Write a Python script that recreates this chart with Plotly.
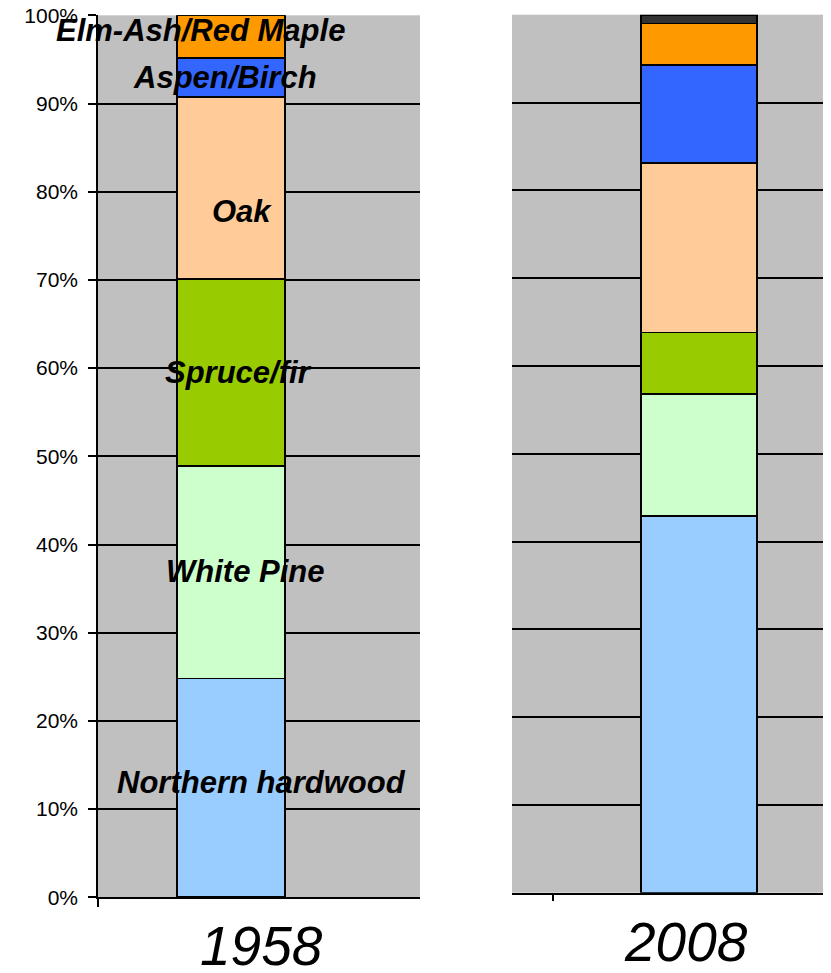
import plotly.graph_objects as go

years = ["1958", "2008"]
species = ["Northern hardwood", "White Pine", "Spruce/fir", "Oak",
           "Aspen/Birch", "Elm-Ash/Red Maple", "Other"]
share_1958 = [24.8, 24.1, 21.2, 20.6, 4.5, 4.8, 0.0]
share_2008 = [42.9, 13.9, 7.0, 19.3, 11.2, 4.7, 1.0]
colors = ["#99CCFF", "#CCFFCC", "#99CC00", "#FFCC99", "#3366FF", "#FF9900", "#333333"]
y_ticks = [0, 10, 20, 30, 40, 50, 60, 70, 80, 90, 100]
y_tick_labels = ["0%", "10%", "20%", "30%", "40%", "50%", "60%", "70%", "80%", "90%", "100%"]

# label placement for the 1958 bar (x offset in bar widths, y in %)
label_x = [0.287, 0.13, 0.074, 0.102, -0.056, -0.278]
label_y = [12.96, 36.9, 59.5, 77.7, 92.9, 98.3]

# page has an 8px body margin; figure fills the rest of the 831x973 window
OFF = 8
W, H = 831 - OFF, 973 - OFF


def px_x(p):
    return (p - OFF) / W


def px_y(p):
    return (973 - p) / H


fig = go.Figure()

for name, v1, v2, c in zip(species, share_1958, share_2008, colors):
    fig.add_trace(go.Bar(x=[0], y=[v1], name=name, marker_color=c,
                         marker_line=dict(color="black", width=1.8),
                         width=1, xaxis="x", yaxis="y", showlegend=False))
    fig.add_trace(go.Bar(x=[0], y=[v2], name=name, marker_color=c,
                         marker_line=dict(color="black", width=1.8),
                         width=1, xaxis="x2", yaxis="y2", showlegend=False))

tickfont = dict(family="Liberation Sans, Arial", size=21, color="black")

fig.update_layout(
    width=W, height=H,
    margin=dict(l=0, r=0, t=0, b=0, autoexpand=False),
    paper_bgcolor="white",
    plot_bgcolor="#C0C0C0",
    barmode="stack",
    showlegend=False,
    xaxis=dict(domain=[px_x(98), px_x(420)], range=[-1.231, 1.75],
               showticklabels=False, showgrid=False, zeroline=False,
               showline=True, linecolor="black", linewidth=1.5,
               ticks="outside", tickvals=[-1.231], ticklen=8, tickwidth=1.5,
               tickcolor="black", anchor="y", automargin=False),
    yaxis=dict(domain=[px_y(897.3), px_y(15.3)], range=[0, 100],
               tickvals=y_ticks, ticktext=y_tick_labels, tickfont=tickfont,
               showgrid=True, gridcolor="black", gridwidth=1.5,
               zeroline=False, showline=True, linecolor="black", linewidth=1.5,
               ticks="outside", ticklen=8, tickwidth=1.5, tickcolor="black",
               ticklabelstandoff=6, ticklabeloverflow="allow",
               anchor="x", automargin=False),
    xaxis2=dict(domain=[px_x(512), 1.0], range=[-1.612, 1.138],
                showticklabels=False, showgrid=False, zeroline=False,
                showline=True, linecolor="black", linewidth=1.5,
                ticks="outside", tickvals=[-1.259], ticklen=7, tickwidth=1.5,
                tickcolor="black", anchor="y2", automargin=False),
    yaxis2=dict(domain=[px_y(892.7), px_y(14.7)], range=[0, 100],
                tickvals=y_ticks, showticklabels=False,
                showgrid=True, gridcolor="black", gridwidth=1.5,
                zeroline=False, showline=False, ticks="", anchor="x2",
                automargin=False),
)

annotations = []
for name, lx, ly in zip(species[:6], label_x, label_y):
    annotations.append(dict(x=lx, y=ly, xref="x", yref="y", text=name,
                            showarrow=False, xanchor="center", yanchor="middle",
                            font=dict(family="Liberation Sans, Arial", size=31,
                                      color="black", style="italic", weight="bold")))
year_pos = [(px_x(261), px_y(946)), (px_x(686), px_y(942))]
for yr, (px, py) in zip(years, year_pos):
    annotations.append(dict(x=px, y=py, xref="paper", yref="paper", text=yr,
                            showarrow=False, xanchor="center", yanchor="middle",
                            font=dict(family="Liberation Sans, Arial", size=55,
                                      color="black", style="italic")))
fig.update_layout(annotations=annotations)

fig.write_html("out.html")
